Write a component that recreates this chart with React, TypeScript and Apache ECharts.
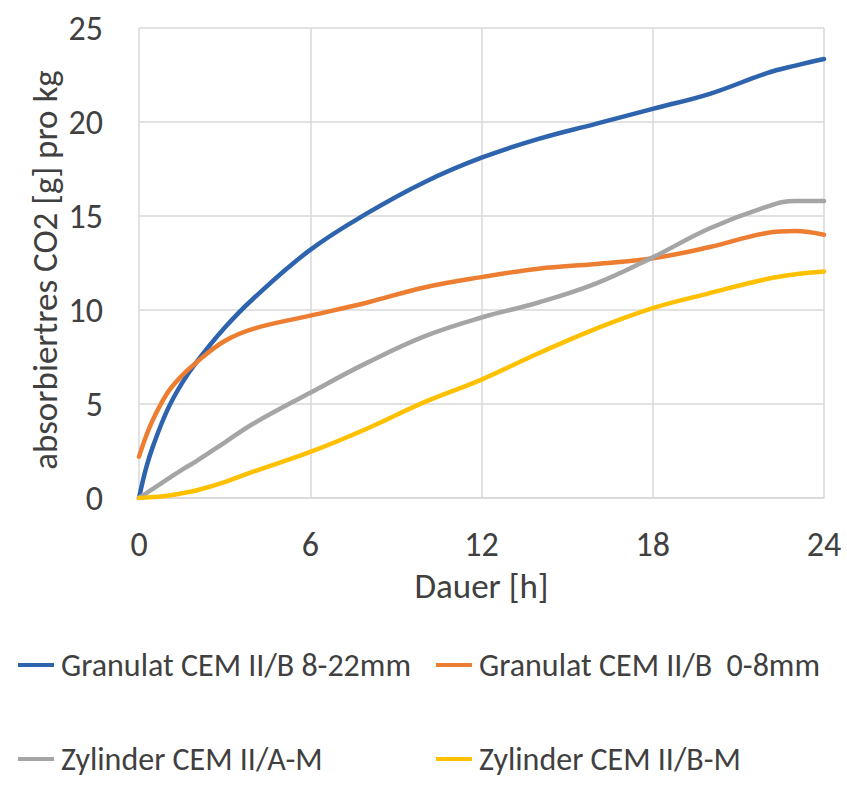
import React, { useEffect, useRef } from "react";
import * as echarts from "echarts";

const hours = [0, 0.25, 0.5, 1, 1.5, 2, 3, 4, 6, 8, 10, 12, 14, 16, 18, 20, 22, 23, 24];
const granulat822 = [0, 1.6, 2.8, 4.7, 6.1, 7.2, 9.05, 10.6, 13.2, 15.15, 16.8, 18.1, 19.1, 19.9, 20.7, 21.5, 22.6, 23.0, 23.35];
const granulat08 = [2.2, 3.3, 4.2, 5.6, 6.5, 7.2, 8.35, 9.0, 9.7, 10.4, 11.2, 11.75, 12.2, 12.45, 12.75, 13.35, 14.1, 14.2, 14.0];
const zylinderAM = [0, 0.25, 0.5, 1.0, 1.5, 1.95, 2.95, 3.95, 5.6, 7.2, 8.6, 9.6, 10.4, 11.4, 12.8, 14.35, 15.5, 15.8, 15.8];
const zylinderBM = [0, 0.02, 0.05, 0.12, 0.25, 0.4, 0.85, 1.4, 2.45, 3.7, 5.1, 6.3, 7.7, 9.0, 10.1, 10.9, 11.65, 11.9, 12.05];

const seriesNames = [
  "Granulat CEM II/B 8-22mm",
  "Granulat CEM II/B  0-8mm",
  "Zylinder CEM II/A-M",
  "Zylinder CEM II/B-M",
];
const seriesValues = [granulat822, granulat08, zylinderAM, zylinderBM];
const colors = ["#2E63AE", "#ED7D31", "#A5A5A5", "#FFC000"];
const xTicks = [0, 6, 12, 18, 24];
const yAxisTitle = "absorbiertres CO2 [g] pro kg";
const xAxisTitle = "Dauer [h]";

const FONT = "Carlito, Lato, 'Open Sans', sans-serif";
const TEXT = "#404040";

export default function App() {
  const ref = useRef<HTMLDivElement>(null);
  useEffect(() => {
    if (!ref.current) return;
    const chart = echarts.init(ref.current, null, { renderer: "svg" });
    const legendPos = [
      { left: 18, top: 649 },
      { left: 436, top: 649 },
      { left: 18, top: 743 },
      { left: 436, top: 743 },
    ];
    chart.setOption({
      animation: false,
      backgroundColor: "#ffffff",
      grid: { left: 139, right: 23, top: 28, bottom: 305, containLabel: false },
      graphic: [
        {
          type: "text",
          x: 45,
          y: 270,
          rotation: Math.PI / 2,
          style: {
            text: yAxisTitle,
            fontFamily: FONT,
            fontSize: 35,
            fill: TEXT,
            textAlign: "center",
            textVerticalAlign: "middle",
          },
        },
      ],
      legend: seriesNames.map((n, i) => ({
        data: [n],
        left: legendPos[i].left,
        top: legendPos[i].top,
        icon: "rect",
        itemWidth: 36,
        itemHeight: 4,
        padding: 0,
        textStyle: { fontFamily: FONT, fontSize: 32, color: TEXT, padding: [0, 0, 0, 2] },
      })),
      xAxis: {
        type: "value",
        min: 0,
        max: 24,
        interval: 6,
        name: xAxisTitle,
        nameLocation: "middle",
        nameGap: 70,
        nameTextStyle: { fontFamily: FONT, fontSize: 35, color: TEXT },
        axisLine: { show: true, lineStyle: { color: "#D9D9D9", width: 1.5 } },
        axisTick: { show: false },
        axisLabel: {
          fontFamily: FONT,
          fontSize: 34,
          color: TEXT,
          margin: 29,
          formatter: (v: number) => (xTicks.includes(v) ? String(v) : ""),
        },
        splitLine: { show: true, lineStyle: { color: "#D9D9D9", width: 1.5 } },
      },
      yAxis: {
        type: "value",
        min: 0,
        max: 25,
        interval: 5,
        axisLine: { show: false },
        axisTick: { show: false },
        axisLabel: { fontFamily: FONT, fontSize: 34, color: TEXT, margin: 36 },
        splitLine: { show: true, lineStyle: { color: "#D9D9D9", width: 1.5 } },
      },
      series: seriesNames.map((n, i) => ({
        name: n,
        type: "line",
        data: hours.map((h, j) => [h, seriesValues[i][j]]),
        smooth: 0.4,
        showSymbol: false,
        symbol: "none",
        lineStyle: { color: colors[i], width: 4.5, cap: "round" },
        itemStyle: { color: colors[i] },
      })),
    });
    return () => chart.dispose();
  }, []);
  return (
    <div
      ref={ref}
      style={{ position: "fixed", left: 0, top: 0, width: 847, height: 803 }}
    />
  );
}
